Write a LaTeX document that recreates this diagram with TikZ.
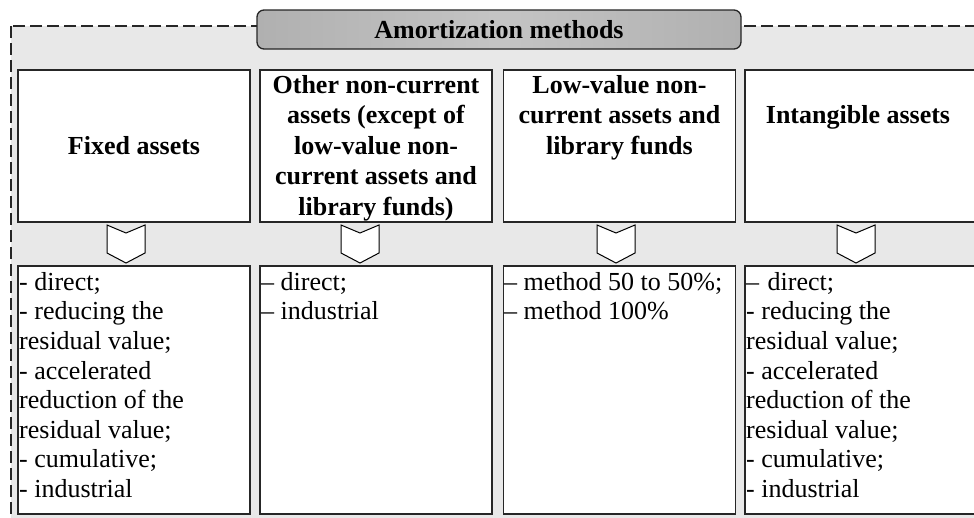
\documentclass[tikz,border=0pt]{standalone}
\usepackage{fontspec}
\setmainfont{Liberation Serif}
\newcommand{\topstrut}{\rule{0pt}{20pt}}
\tikzset{
  frame/.style={draw=black!85, dash pattern=on 12pt off 5pt, line width=1.6pt, fill=black!9},
  box/.style={draw=black!85, line width=1.5pt, fill=white, inner sep=0pt, minimum width=232pt},
  headbox/.style={box, minimum height=152pt},
  lowbox/.style={box, minimum height=248pt},
  titlebox/.style={draw=black!85, line width=1.3pt, rounded corners=7pt,
    left color=black!31, right color=black!31, middle color=black!23,
    minimum width=484pt, minimum height=39pt, inner sep=0pt,
    font=\fontsize{26}{30}\selectfont\bfseries},
  headtext/.style={anchor=north, inner sep=0pt, align=center, font=\fontsize{26}{30.5}\selectfont\bfseries},
  lowtext/.style={anchor=north west, inner sep=0pt, align=left, font=\fontsize{26}{29.6}\selectfont},
  chevron/.pic={\draw[fill=white, line width=1pt, line join=miter]
    (-19,-19) -- (0,-11) -- (19,-19) -- (19,9) -- (0,19) -- (-19,9) -- cycle;}
}
\begin{document}
\begin{tikzpicture}[x=1pt,y=-1pt]
\useasboundingbox (0,0) rectangle (974,517);
\clip (0,0) rectangle (974,517);
% outer dashed frame
\path[frame] (11,26) rectangle (995,545);
% title
\node[titlebox] (title) at (499,29.5) {Amortization methods};
% header boxes
\node[headbox] (h1) at (134,146) {};
\node[headbox] (h2) at (376,146) {};
\node[headbox] (h3) at (619.5,146) {};
\node[headbox] (h4) at (861,146) {};
\node[headtext] (th1) at (134,134) {\topstrut Fixed assets};
\node[headtext] (th2) at (376,73) {\topstrut Other non-current\\assets (except of\\low-value non-\\current assets and\\library funds)};
\node[headtext] (th3) at (619.5,73) {\topstrut Low-value non-\\current assets and\\library funds};
\node[headtext] (th4) at (858,103) {\topstrut Intangible assets};
% chevrons
\pic at (126,244) {chevron};
\pic at (360,244) {chevron};
\pic at (616,244) {chevron};
\pic at (856,244) {chevron};
% lower boxes
\node[lowbox] (l1) at (134,390) {};
\node[lowbox] (l2) at (376,390) {};
\node[lowbox] (l3) at (619.5,390) {};
\node[lowbox] (l4) at (861,390) {};
\node[lowtext] (tl1) at (19,270) {\topstrut- direct;\\- reducing the\\residual value;\\- accelerated\\reduction of the\\residual value;\\- cumulative;\\- industrial};
\node[lowtext] (tl2) at (261,270) {\topstrut– direct;\\– industrial};
\node[lowtext] (tl3) at (504,270) {\topstrut– method 50 to 50\%;\\– method 100\%};
\node[lowtext] (tl4) at (746,270) {\topstrut–\hspace{2pt} direct;\\- reducing the\\residual value;\\- accelerated\\reduction of the\\residual value;\\- cumulative;\\- industrial};
\end{tikzpicture}
\end{document}
